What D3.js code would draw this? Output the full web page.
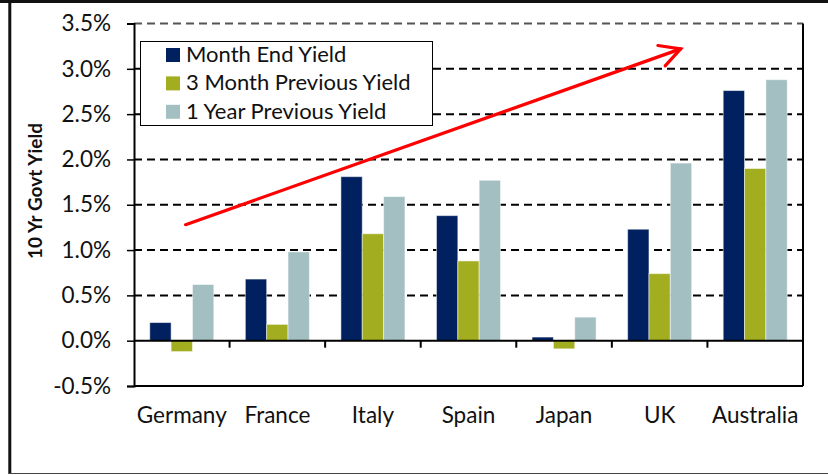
<!doctype html>
<html lang="en">

<head>
    <title>10 Yr Govt Yield</title>
    <meta charset="utf-8">
    <style>
        body { margin: 0; background: #fff; }
        svg { display: block; font-family: Lato, "Open Sans", sans-serif; }
    </style>
</head>

<body>
    <div id="chart"></div>

    <script src="https://cdnjs.cloudflare.com/ajax/libs/d3/7.8.5/d3.min.js"></script>

    <script>
        // data
        const countries = ["Germany", "France", "Italy", "Spain", "Japan", "UK", "Australia"];
        const seriesNames = ["Month End Yield", "3 Month Previous Yield", "1 Year Previous Yield"];
        const monthEnd = [0.20, 0.68, 1.81, 1.38, 0.04, 1.23, 2.76];
        const threeMonth = [-0.12, 0.18, 1.18, 0.88, -0.09, 0.74, 1.90];
        const oneYear = [0.62, 0.98, 1.59, 1.77, 0.26, 1.96, 2.88];
        const yTicks = [-0.5, 0, 0.5, 1.0, 1.5, 2.0, 2.5, 3.0, 3.5];
        const colors = ["#00205f", "#a2ad1f", "#a3bfc2"];
        // trend arrow, in (category, position inside band, value)
        const arrowPts = [["Germany", 0.54, 1.28], ["UK", 0.72, 3.22]];

        const width = 828;
        const height = 475;
        const margin = { top: 23.5, right: 25, bottom: 89, left: 134 };

        const svg = d3.select("#chart").append("svg")
            .attr("width", width).attr("height", height);

        const x0 = d3.scaleBand().domain(countries)
            .range([margin.left, width - margin.right]);
        const bw = x0.bandwidth();
        const x1 = d3.scaleBand().domain(seriesNames)
            .range([bw * 0.165, bw * 0.835]);
        const y = d3.scaleLinear().domain([-0.5, 3.5])
            .range([height - margin.bottom, margin.top]);

        // outer frame
        svg.append("line").attr("x1", 0).attr("x2", width).attr("y1", 1.5).attr("y2", 1.5)
            .attr("stroke", "#111").attr("stroke-width", 3);
        svg.append("line").attr("x1", 9.8).attr("x2", 9.8).attr("y1", 0).attr("y2", 474)
            .attr("stroke", "#111").attr("stroke-width", 3);
        svg.append("line").attr("x1", 9).attr("x2", width).attr("y1", 473.5).attr("y2", 473.5)
            .attr("stroke", "#444").attr("stroke-width", 1);

        // gridlines
        svg.append("g").selectAll("line")
            .data(yTicks.filter(d => d != 0))
            .join("line")
            .attr("x1", margin.left).attr("x2", width - margin.right)
            .attr("y1", d => y(d)).attr("y2", d => y(d))
            .attr("stroke", d => d == 3.5 ? "#555" : "#000")
            .attr("stroke-width", 2)
            .attr("stroke-dasharray", d => d == -0.5 ? null : "8,5");

        // right edge of plot area
        svg.append("line")
            .attr("x1", width - margin.right).attr("x2", width - margin.right)
            .attr("y1", y(3.5)).attr("y2", y(-0.5))
            .attr("stroke", "#000").attr("stroke-width", 2);

        // bars
        const rows = countries.map((c, i) => ({
            country: c,
            vals: [monthEnd[i], threeMonth[i], oneYear[i]]
        }));

        svg.append("g").selectAll("g")
            .data(rows)
            .join("g")
            .attr("transform", d => `translate(${x0(d.country)},0)`)
            .selectAll("rect")
            .data(d => d.vals.map((v, k) => ({ key: seriesNames[k], v: v, k: k })))
            .join("rect")
            .attr("x", d => x1(d.key))
            .attr("width", x1.bandwidth())
            .attr("y", d => y(Math.max(0, d.v)))
            .attr("height", d => Math.abs(y(d.v) - y(0)))
            .attr("fill", d => colors[d.k])
            .attr("stroke", "#fff")
            .attr("stroke-opacity", 0.5)
            .attr("stroke-width", 1);

        // y axis
        const yAxis = svg.append("g")
            .attr("transform", `translate(${margin.left},0)`)
            .call(d3.axisLeft(y).tickValues(yTicks).tickSize(7).tickPadding(16)
                .tickFormat(d => d.toFixed(1) + "%"));
        yAxis.select(".domain").attr("stroke", "#000").attr("stroke-width", 2);
        yAxis.selectAll(".tick line").attr("stroke", "#000").attr("stroke-width", 1.5);
        yAxis.selectAll("text").attr("font-size", 22.5).attr("fill", "#111")
            .attr("font-family", "Lato, 'Open Sans', sans-serif");

        // zero line with category ticks
        svg.append("line")
            .attr("x1", margin.left).attr("x2", width - margin.right)
            .attr("y1", y(0)).attr("y2", y(0))
            .attr("stroke", "#000").attr("stroke-width", 2);
        svg.append("g").selectAll("line")
            .data(countries.slice(1))
            .join("line")
            .attr("x1", d => x0(d)).attr("x2", d => x0(d))
            .attr("y1", y(0)).attr("y2", y(0) + 7)
            .attr("stroke", "#000").attr("stroke-width", 2);

        // category labels
        svg.append("g").selectAll("text")
            .data(countries)
            .join("text")
            .attr("x", d => x0(d) + bw / 2)
            .attr("y", 423)
            .attr("text-anchor", "middle")
            .attr("font-size", 22.5)
            .attr("fill", "#111")
            .text(d => d);

        // y title
        svg.append("text")
            .attr("transform", "translate(42,191) rotate(-90)")
            .attr("text-anchor", "middle")
            .attr("font-size", 19)
            .attr("font-weight", "bold")
            .attr("fill", "#111")
            .text("10 Yr Govt Yield");

        // legend
        const legend = svg.append("g");
        legend.append("rect")
            .attr("x", 140.5).attr("y", 41.5).attr("width", 292).attr("height", 84)
            .attr("fill", "#fff").attr("stroke", "#000").attr("stroke-width", 1);
        const items = legend.selectAll("g.item")
            .data(seriesNames)
            .join("g")
            .attr("class", "item")
            .attr("transform", (d, i) => `translate(166,${62 + i * 28.4})`);
        items.append("rect")
            .attr("y", -14).attr("width", 14).attr("height", 14)
            .attr("fill", (d, i) => colors[i]);
        items.append("text")
            .attr("x", 20)
            .attr("font-size", 22)
            .attr("fill", "#111")
            .text(d => d);

        // red trend arrow
        const ax = p => x0(p[0]) + bw * p[1];
        const [a, b] = arrowPts;
        const sx = ax(a), sy = y(a[2]), ex = ax(b), ey = y(b[2]);
        const ang = Math.atan2(ey - sy, ex - sx);
        const headLen = 23, spread = 28 * Math.PI / 180;
        const arrow = svg.append("g")
            .attr("stroke", "#ff0000").attr("stroke-width", 3.2)
            .attr("fill", "none").attr("stroke-linecap", "round");
        arrow.append("line").attr("x1", sx).attr("y1", sy).attr("x2", ex).attr("y2", ey);
        arrow.append("path")
            .attr("stroke-linejoin", "miter")
            .attr("d", d3.line()([
                [ex - headLen * Math.cos(ang - spread), ey - headLen * Math.sin(ang - spread)],
                [ex, ey],
                [ex - headLen * Math.cos(ang + spread), ey - headLen * Math.sin(ang + spread)]
            ]));
    </script>
</body>

</html>
